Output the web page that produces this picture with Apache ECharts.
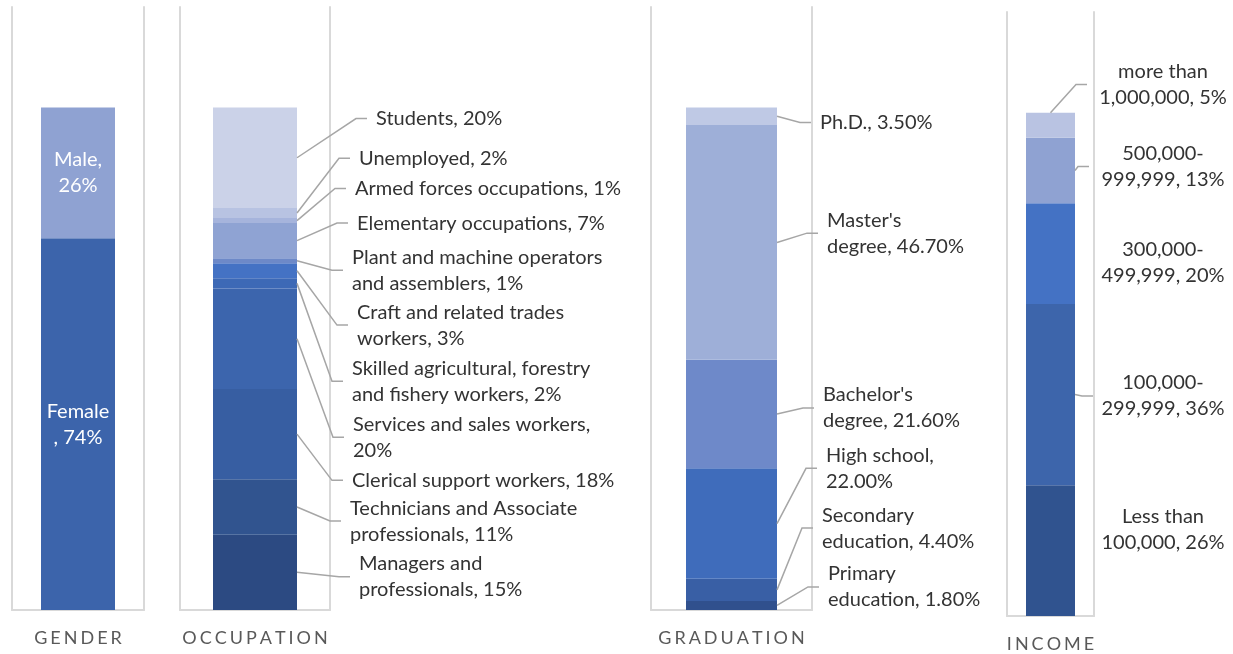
<!DOCTYPE html>
<html>
<head>
<meta charset="utf-8">
<script src="https://cdn.jsdelivr.net/npm/echarts@6/dist/echarts.min.js"></script>
<style>
  html, body { margin: 0; padding: 0; background: #fff; }
  #chart { width: 1233px; height: 654px; }
</style>
</head>
<body>
<div id="chart"></div>
<script>
// every stack is listed from the bottom segment to the top one
const panelNames = ['GENDER', 'OCCUPATION', 'GRADUATION', 'INCOME']

const genderNames = ['Female', 'Male']
const genderValues = [74, 26]

const occNames = [
  'Managers and\nprofessionals',
  'Technicians and Associate\nprofessionals',
  'Clerical support workers',
  'Services and sales workers',
  'Skilled agricultural, forestry\nand fishery workers',
  'Craft and related trades\nworkers',
  'Plant and machine operators\nand assemblers',
  'Elementary occupations',
  'Armed forces occupations',
  'Unemployed',
  'Students',
]
const occValues = [15, 11, 18, 20, 2, 3, 1, 7, 1, 2, 20]

const gradNames = ['Primary\neducation', 'Secondary\neducation', 'High school', "Bachelor's\ndegree", "Master's\ndegree", 'Ph.D.']
const gradValues = [1.8, 4.4, 22.0, 21.6, 46.7, 3.5]

const incNames = ['Less than\n100,000', '100,000-\n299,999', '300,000-\n499,999', '500,000-\n999,999', 'more than\n1,000,000']
const incValues = [26, 36, 20, 13, 5]

// colours
const genderColors = ['#3c64ab', '#8fa2d2']
const occColors = ['#2c4a82', '#31548f', '#375ea2', '#3c65ad', '#3d69b6', '#4472c4', '#6d89c8', '#8fa3d3', '#a6b4dc', '#b8c3e2', '#cbd2e8']
const gradColors = ['#30508d', '#395fa5', '#3f6cbb', '#6e89c9', '#9eafd8', '#bfc9e5']
const incColors = ['#30538f', '#3d65ab', '#4472c4', '#8fa2d2', '#b9c3e2']

// label placement: at = height on the value axis, dx = px from the bar's right edge
const genderSep = ['\n, ', ',\n']
const occLayout = [
  { at: 6.6, dx: 62 }, { at: 17.7, dx: 53 }, { at: 25.8, dx: 55 }, { at: 34.4, dx: 56, sep: ',\n' },
  { at: 45.5, dx: 55 }, { at: 56.7, dx: 60 }, { at: 67.6, dx: 55 }, { at: 77.0, dx: 60 },
  { at: 83.9, dx: 58 }, { at: 89.9, dx: 62 }, { at: 97.8, dx: 79 },
]
const gradLayout = [
  { at: 4.6, dx: 51 }, { at: 16.3, dx: 45 }, { at: 28.2, dx: 49, sep: ',\n' },
  { at: 40.2, dx: 46 }, { at: 75.0, dx: 50 }, { at: 97.0, dx: 43 },
]
const incLayout = [
  { at: 17.1, dx: 88, line: false }, { at: 43.7, dx: 88, lineDx: 18 }, { at: 70.2, dx: 88, line: false },
  { at: 89.3, dx: 88, lineDx: 14 }, { at: 105.6, dx: 88, lineDx: 12, anchor: 'top' },
]

const panels = [
  { left: 12, width: 132, top: 7, bottom: 44, barWidth: 74 },
  { left: 180, width: 150, top: 7, bottom: 44, barWidth: 84 },
  { left: 651, width: 161, top: 7, bottom: 44, barWidth: 91 },
  { left: 1007, width: 87, top: 12, bottom: 38, barWidth: 49 },
]

const FONT = 'Lato, "Open Sans", sans-serif'
const frameLine = { show: true, lineStyle: { color: '#d9d9d9', width: 2 } }

function stackSeries(gi, names, values, colors, label) {
  return names.map((name, i) => ({
    name,
    type: 'bar',
    stack: 'panel' + gi,
    xAxisIndex: gi,
    yAxisIndex: gi * 2,
    barWidth: panels[gi].barWidth,
    data: [values[i]],
    itemStyle: { color: colors[i] },
    label: label ? label(i) : { show: false },
    silent: true,
  }))
}

function leaderSeries(gi, names, values, layout, fmt, centered) {
  let acc = 0
  const data = values.map((v) => {
    const row = [0, acc + v / 2, 0, acc + v]
    acc += v
    return row
  })
  data.forEach((row, i) => { row[2] = layout[i].at })
  const half = panels[gi].barWidth / 2
  return {
    type: 'custom',
    xAxisIndex: gi,
    yAxisIndex: gi * 2,
    silent: true,
    z: 5,
    clip: false,
    data,
    renderItem(params, api) {
      const i = params.dataIndex
      const L = layout[i]
      const c = api.coord([api.value(0), api.value(1)])
      const right = c[0] + half
      const ly = api.coord([api.value(0), api.value(2)])[1]
      const tx = right + L.dx
      const text = names[i] + (L.sep || ', ') + fmt(values[i])
      const children = []
      if (L.line !== false) {
        const start = L.anchor === 'top' ? [c[0], api.coord([api.value(0), api.value(3)])[1]] : [right, c[1]]
        const end = centered ? right + L.lineDx : tx - 9
        children.push({
          type: 'polyline',
          shape: { points: [start, [end - 11, ly], [end, ly]] },
          style: { stroke: '#a6a6a6', lineWidth: 1.5, fill: null },
        })
      }
      children.push({
        type: 'text',
        x: tx,
        y: ly,
        style: {
          text,
          fill: '#333333',
          fontSize: 20,
          fontFamily: FONT,
          lineHeight: 26,
          align: centered ? 'center' : 'left',
          textAlign: centered ? 'center' : 'left',
          verticalAlign: 'middle',
          textVerticalAlign: 'middle',
        },
      })
      return { type: 'group', children }
    },
  }
}

const pct = (v) => v + '%'
const pct2 = (v) => v.toFixed(2) + '%'

const series = [
  ...stackSeries(0, genderNames, genderValues, genderColors, (i) => ({
    show: true,
    position: 'inside',
    color: '#ffffff',
    fontSize: 20,
    fontFamily: FONT,
    lineHeight: 26,
    formatter: () => genderNames[i] + genderSep[i] + pct(genderValues[i]),
  })),
  ...stackSeries(1, occNames, occValues, occColors),
  ...stackSeries(2, gradNames, gradValues, gradColors),
  ...stackSeries(3, incNames, incValues, incColors),
  leaderSeries(1, occNames, occValues, occLayout, pct, false),
  leaderSeries(2, gradNames, gradValues, gradLayout, pct2, false),
  leaderSeries(3, incNames, incValues, incLayout, pct, true),
]

const chart = echarts.init(document.getElementById('chart'))
chart.setOption({
  animation: false,
  backgroundColor: '#ffffff',
  grid: panels.map((p) => ({ left: p.left, width: p.width, top: p.top, bottom: p.bottom })),
  xAxis: panels.map((p, i) => ({
    type: 'category',
    gridIndex: i,
    data: [panelNames[i]],
    axisLine: frameLine,
    axisTick: { show: false },
    axisLabel: {
      margin: 19,
      fontSize: 18,
      formatter: (v) => v.split('').map((ch) => '{s|' + ch + '}').join(''),
      rich: { s: { padding: [0, 1.5], fontSize: 18, fontFamily: FONT, color: '#595959' } },
    },
  })),
  yAxis: panels.flatMap((p, i) => [
    { type: 'value', gridIndex: i, min: 0, max: 120, axisLine: frameLine, axisLabel: { show: false }, axisTick: { show: false }, splitLine: { show: false } },
    { type: 'value', gridIndex: i, position: 'right', min: 0, max: 120, axisLine: frameLine, axisLabel: { show: false }, axisTick: { show: false }, splitLine: { show: false } },
  ]),
  series,
})
</script>
</body>
</html>
